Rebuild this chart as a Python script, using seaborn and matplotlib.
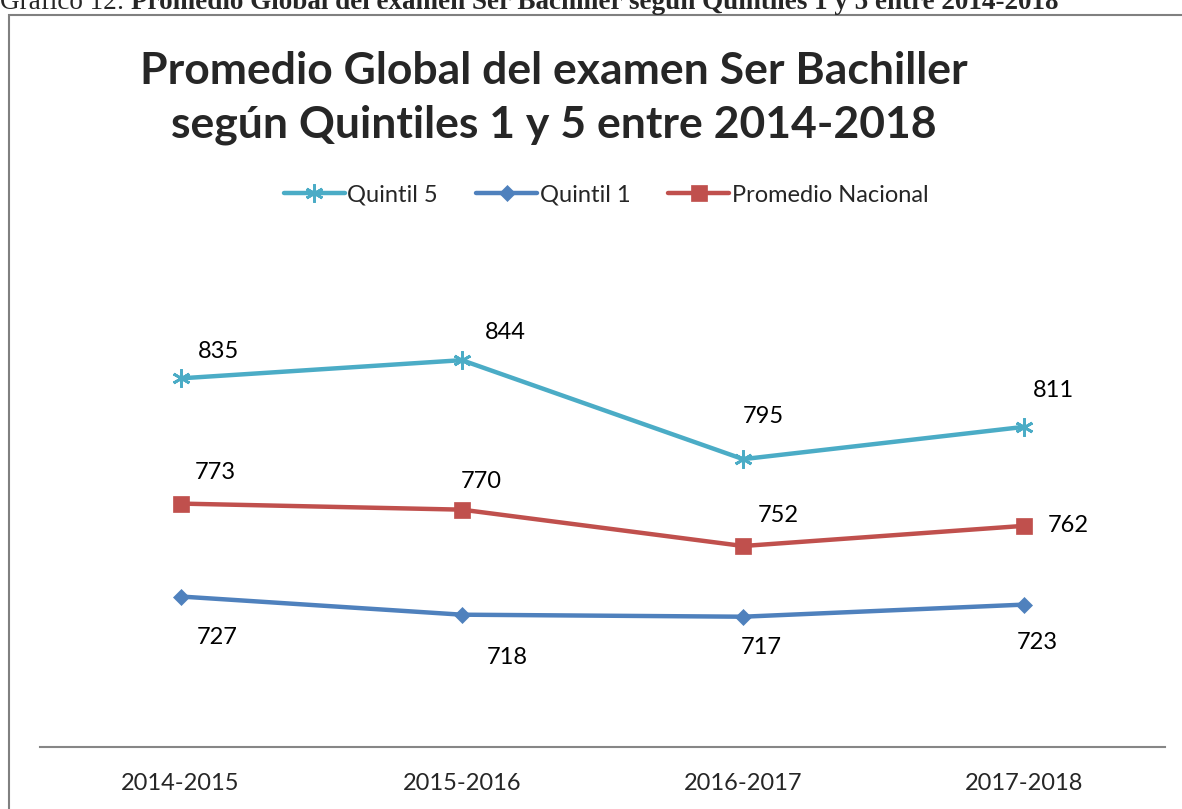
import matplotlib
matplotlib.use("Agg")
import matplotlib.pyplot as plt
import matplotlib.patches as mpatches
import seaborn as sns
import pandas as pd

# datos del gráfico
periodos = ["2014-2015", "2015-2016", "2016-2017", "2017-2018"]
quintil_5 = [835, 844, 795, 811]
quintil_1 = [727, 718, 717, 723]
promedio_nacional = [773, 770, 752, 762]

series = ["Quintil 5", "Quintil 1", "Promedio Nacional"]
valores = [quintil_5, quintil_1, promedio_nacional]

colores = ["#4BACC6", "#4F81BD", "#C0504D"]
marcadores = [(6, 2, 0), "D", "s"]
tam_marcador = [13, 8, 12]
# desplazamiento de etiquetas (pixeles)
offsets = [
    [(38, 27), (43, 28), (20, 43), (29, 36)],
    [(37, -41), (45, -43), (18, -31), (13, -38)],
    [(35, 31), (19, 28), (35, 31), (44, 0)],
]

sns.set_theme(style="white")
plt.rcParams["font.family"] = ["Lato", "DejaVu Sans"]

fig = plt.figure(figsize=(11.82, 8.09), dpi=100)
ax = fig.add_axes([40 / 1182, 1 - 747 / 809, 1125 / 1182, 505 / 809])

for nombre, vals, col, mk, ms, offs in zip(series, valores, colores, marcadores, tam_marcador, offsets):
    df = pd.DataFrame({"periodo": periodos, "valor": vals})
    sns.lineplot(data=df, x="periodo", y="valor", ax=ax, color=col, linewidth=3.2,
                 marker=mk, markersize=ms, markeredgecolor=col,
                 markeredgewidth=2 if mk not in ("D", "s") else 0.5,
                 label=nombre)
    for i, v in enumerate(vals):
        ax.annotate(str(v), (i, v), xytext=offs[i], textcoords="offset pixels",
                    ha="center", va="center", fontsize=17, color="black")

ax.set_xlim(-0.5, 3.5)
ax.set_ylim(652.5, 902.5)
ax.set_xlabel("")
ax.set_ylabel("")
ax.set_yticks([])
ax.tick_params(axis="x", length=0, labelsize=17, pad=19)
for s in ["top", "right", "left"]:
    ax.spines[s].set_visible(False)
ax.spines["bottom"].set_color("#868686")
ax.spines["bottom"].set_linewidth(1.5)

handles, labels = ax.get_legend_handles_labels()
fig.legend(handles, labels, loc="center", bbox_to_anchor=(606 / 1182, 1 - 195 / 809),
           ncol=3, frameon=False, fontsize=17, handlelength=2.6, handletextpad=0.1,
           columnspacing=1.6)
ax.get_legend().remove()

fig.text(554 / 1182, 1 - 98 / 809,
         "Promedio Global del examen Ser Bachiller\nsegún Quintiles 1 y 5 entre 2014-2018",
         ha="center", va="center", fontsize=32, fontweight="bold", linespacing=1.38)

# marco del gráfico
fig.patches.append(mpatches.Rectangle((9 / 1182, -0.05), 1.2, 1 - 15 / 809 + 0.05,
                                      transform=fig.transFigure, fill=False,
                                      edgecolor="#808080", linewidth=1.5))

# leyenda del documento (cortada arriba)
t1 = fig.text(0, 1 - 9 / 809, "Gráfico 12: ", family="Liberation Serif", fontsize=19.5,
              va="baseline", ha="left")
fig.canvas.draw()
bb = t1.get_window_extent(renderer=fig.canvas.get_renderer())
x_bold = bb.x1 / fig.bbox.width
fig.text(x_bold, 1 - 9 / 809,
         "Promedio Global del examen Ser Bachiller según Quintiles 1 y 5 entre 2014-2018",
         family="Liberation Serif", fontsize=19.5, fontweight="bold", va="baseline", ha="left")

fig.savefig("out.png", dpi=100)
